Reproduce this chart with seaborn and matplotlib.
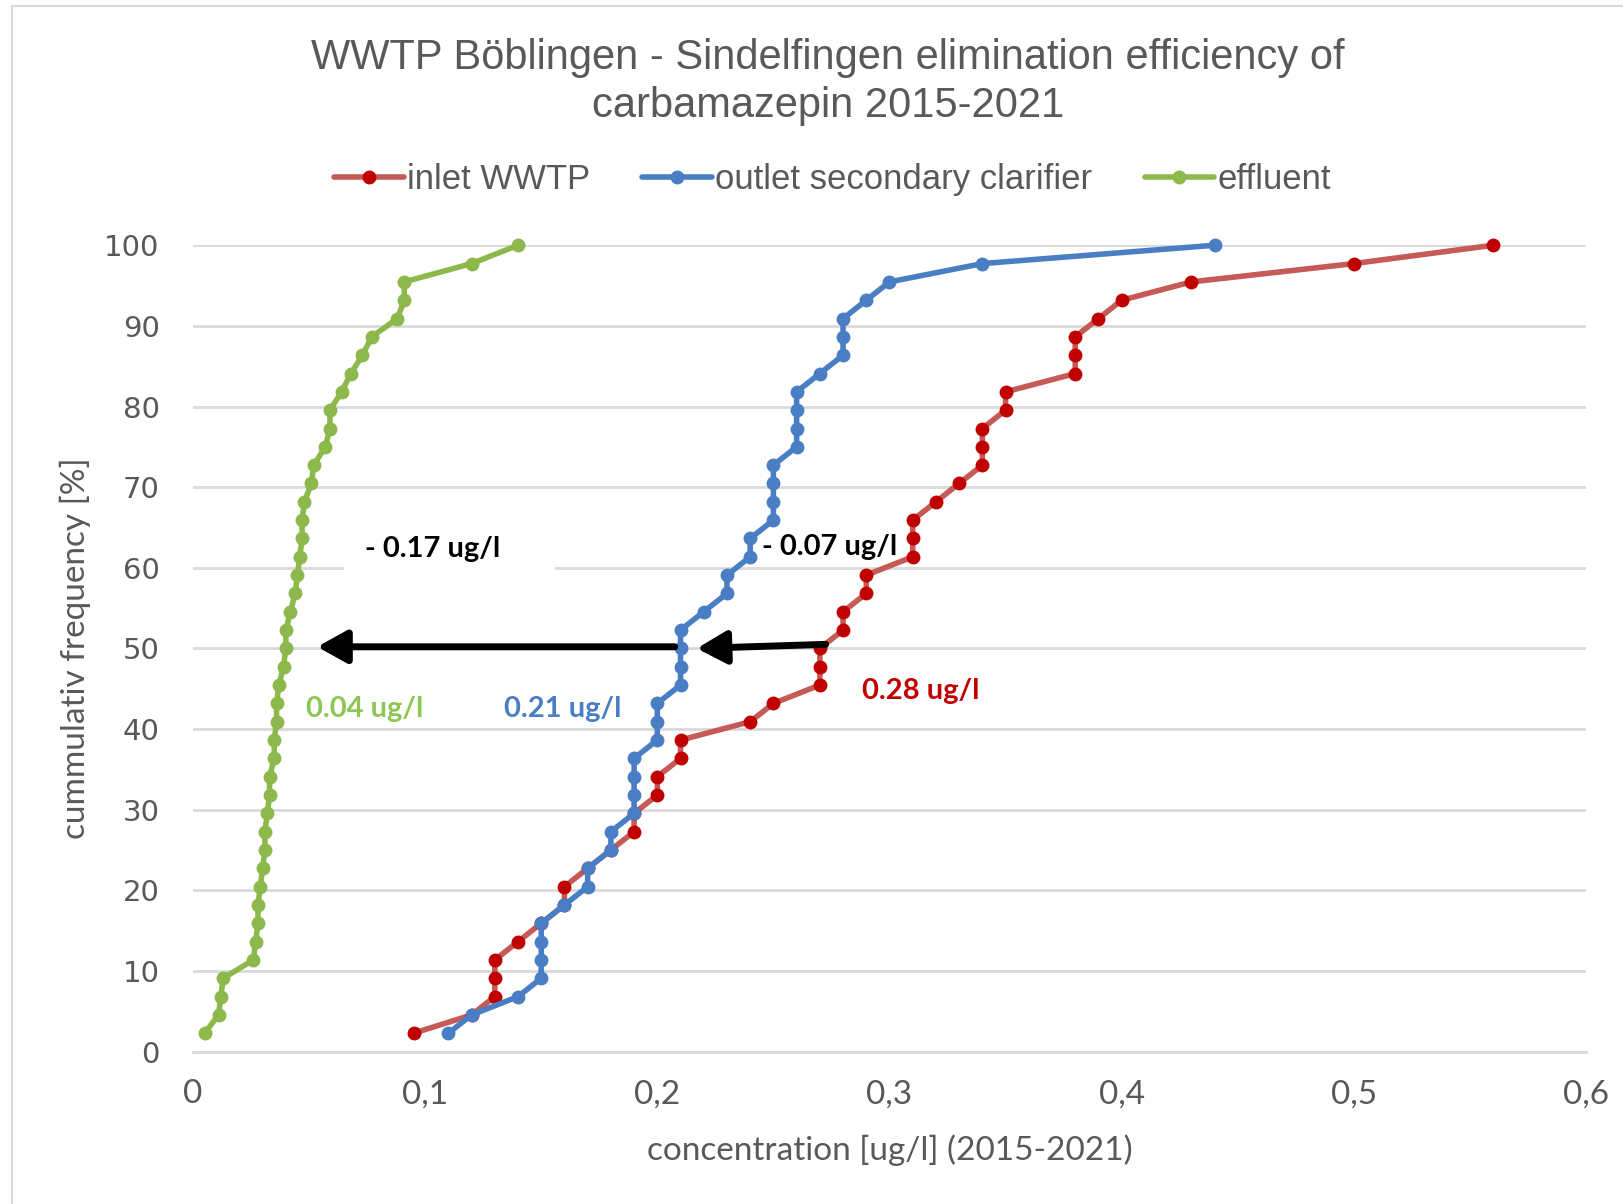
import numpy as np
import pandas as pd
import matplotlib
matplotlib.use("Agg")
import matplotlib.pyplot as plt
import seaborn as sns
from matplotlib.patches import Rectangle

# ---- data ----
series_names = ["inlet WWTP", "outlet secondary clarifier", "effluent"]

inlet_wwtp = [0.095, 0.12, 0.13, 0.13, 0.13, 0.14, 0.15, 0.16, 0.16, 0.17, 0.18,
              0.19, 0.19, 0.20, 0.20, 0.21, 0.21, 0.24, 0.25, 0.27, 0.27, 0.27,
              0.28, 0.28, 0.29, 0.29, 0.31, 0.31, 0.31, 0.32, 0.33, 0.34, 0.34,
              0.34, 0.35, 0.35, 0.38, 0.38, 0.38, 0.39, 0.40, 0.43, 0.50, 0.56]

outlet_clarifier = [0.11, 0.12, 0.14, 0.15, 0.15, 0.15, 0.15, 0.16, 0.17, 0.17, 0.18,
                    0.18, 0.19, 0.19, 0.19, 0.19, 0.20, 0.20, 0.20, 0.21, 0.21, 0.21,
                    0.21, 0.22, 0.23, 0.23, 0.24, 0.24, 0.25, 0.25, 0.25, 0.25, 0.26,
                    0.26, 0.26, 0.26, 0.27, 0.28, 0.28, 0.28, 0.29, 0.30, 0.34, 0.44]

effluent = [0.005, 0.011, 0.012, 0.013, 0.026, 0.027, 0.028, 0.028, 0.029, 0.030, 0.031,
            0.031, 0.032, 0.033, 0.033, 0.035, 0.035, 0.036, 0.036, 0.037, 0.039, 0.040,
            0.040, 0.042, 0.044, 0.045, 0.046, 0.047, 0.047, 0.048, 0.051, 0.052, 0.057,
            0.059, 0.059, 0.064, 0.068, 0.073, 0.077, 0.088, 0.091, 0.091, 0.120, 0.140]

x_ticks = [0.0, 0.1, 0.2, 0.3, 0.4, 0.5, 0.6]
x_tick_labels = ["0", "0,1", "0,2", "0,3", "0,4", "0,5", "0,6"]
y_ticks = [0, 10, 20, 30, 40, 50, 60, 70, 80, 90, 100]

# cumulative frequency (empirical distribution: rank / n)
def cum_freq(values):
    n = len(values)
    return [100.0 * (i + 1) / n for i in range(n)]

frames = []
for name, vals in zip(series_names, [inlet_wwtp, outlet_clarifier, effluent]):
    frames.append(pd.DataFrame({"series": name,
                                "concentration": vals,
                                "frequency": cum_freq(vals)}))
df = pd.concat(frames, ignore_index=True)

# ---- style ----
sns.set_theme(style="white")
plt.rcParams["font.family"] = ["Lato", "DejaVu Sans"]

line_colors = {"inlet WWTP": "#C55A57",
               "outlet secondary clarifier": "#4A7EC4",
               "effluent": "#8DB84C"}
marker_colors = {"inlet WWTP": "#C00000",
                 "outlet secondary clarifier": "#4A7EC4",
                 "effluent": "#8DB84C"}
grey_text = "#595959"
grid_col = "#D9D9D9"

fig = plt.figure(figsize=(16.23, 12.04), dpi=100)
ax = fig.add_axes([0.1189, 0.1266, 0.8583, 0.6697])
ax.set_axisbelow(True)

sns.lineplot(data=df, x="concentration", y="frequency", hue="series",
             hue_order=series_names, palette=line_colors, estimator=None,
             sort=False, marker="o", markersize=10, linewidth=4,
             markeredgewidth=0, legend=False, ax=ax)

for line, name in zip(ax.lines, series_names):
    line.set_markerfacecolor(marker_colors[name])
    line.set_markeredgecolor(marker_colors[name])
    line.set_clip_on(False)

ax.set_xlim(0, 0.6)
ax.set_ylim(0, 100)
ax.set_xticks(x_ticks)
ax.set_xticklabels(x_tick_labels, fontsize=24, color=grey_text, family=["Lato"])
ax.set_yticks(y_ticks)
ax.set_yticklabels([str(v) for v in y_ticks], fontsize=21, color=grey_text,
                   family=["DejaVu Sans"])
ax.tick_params(axis="both", length=0)
ax.tick_params(axis="x", pad=20)
ax.tick_params(axis="y", pad=24)

ax.yaxis.grid(True, color=grid_col, linewidth=2)
ax.xaxis.grid(False)
for s in ["top", "right", "left"]:
    ax.spines[s].set_visible(False)
ax.spines["bottom"].set_color(grid_col)
ax.spines["bottom"].set_linewidth(2)

ax.set_xlabel("concentration [ug/l] (2015-2021)", fontsize=24, color=grey_text)
ax.set_ylabel("cummulativ frequency [%]", fontsize=24, color=grey_text)
ax.xaxis.set_label_coords(0.5, -0.103)
ax.yaxis.set_label_coords(-0.073, 0.5)

# title
fig.text(0.51, 0.952, "WWTP Böblingen - Sindelfingen elimination efficiency of",
         ha="center", va="center", fontsize=30, color=grey_text,
         family=["Liberation Sans"])
fig.text(0.51, 0.912, "carbamazepin 2015-2021", ha="center", va="center",
         fontsize=30, color=grey_text, family=["Liberation Sans"])

# legend
handles = list(ax.lines[:3])
leg = fig.legend(handles, series_names, loc="center", bbox_to_anchor=(0.513, 0.851),
                 ncol=3, frameon=False, handlelength=2.0, handletextpad=0.1,
                 columnspacing=1.5, prop={"family": "Liberation Sans", "size": 25},
                 labelcolor=grey_text)

# white box behind the left annotation
ax.add_patch(Rectangle((0.065, 56.5), 0.091, 10.5, facecolor="white",
                       edgecolor="none", zorder=1.5))

# arrows
ax.annotate("", xy=(0.217, 50.0), xytext=(0.2725, 50.5),
            arrowprops=dict(arrowstyle="-|>,head_length=0.45,head_width=0.25",
                            lw=5, color="black", mutation_scale=40,
                            shrinkA=0, shrinkB=0), zorder=6)
ax.annotate("", xy=(0.0535, 50.2), xytext=(0.2075, 50.2),
            arrowprops=dict(arrowstyle="-|>,head_length=0.45,head_width=0.25",
                            lw=5, color="black", mutation_scale=40,
                            shrinkA=0, shrinkB=0), zorder=6)

# annotation texts
ann_size = 21
ax.text(0.1034, 62.3, "- 0.17 ug/l", ha="center", va="center", fontsize=ann_size,
        fontweight="bold", color="black", zorder=7)
ax.text(0.245, 62.6, "- 0.07 ug/l", ha="left", va="center", fontsize=ann_size,
        fontweight="bold", color="black", zorder=7)
ax.text(0.0486, 42.5, "0.04 ug/l", ha="left", va="center", fontsize=ann_size,
        fontweight="bold", color="#8CC653", zorder=7)
ax.text(0.134, 42.5, "0.21 ug/l", ha="left", va="center", fontsize=ann_size,
        fontweight="bold", color="#4A7EC4", zorder=7)
ax.text(0.288, 44.7, "0.28 ug/l", ha="left", va="center", fontsize=ann_size,
        fontweight="bold", color="#C00000", zorder=7)

# chart border
fig.add_artist(Rectangle((12 / 1623, -0.01), 1.0, 1 - 6 / 1204 + 0.01,
                         transform=fig.transFigure, fill=False,
                         edgecolor=grid_col, linewidth=1.5))

fig.savefig("out.png", dpi=100)
